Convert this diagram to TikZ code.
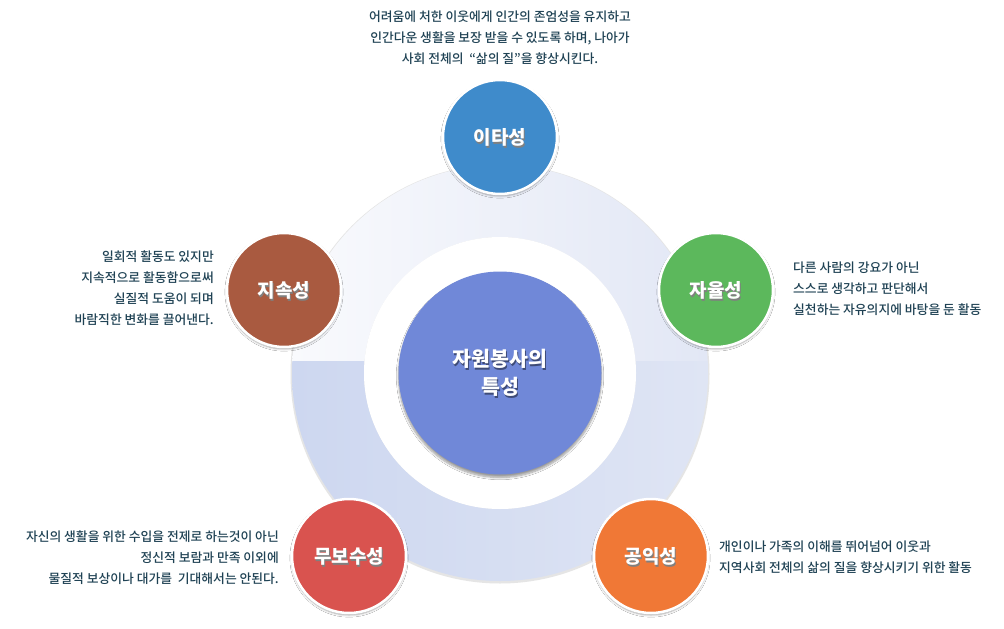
\documentclass[tikz,border=0pt]{standalone}
\usepackage{fontspec}
\setmainfont{Noto Sans CJK KR}
\newfontfamily\descfont{Noto Sans CJK KR Medium}
\usetikzlibrary{shadows.blur}
\definecolor{txt}{HTML}{1F4254}
\definecolor{cblue}{HTML}{3F8BCB}
\definecolor{cgreen}{HTML}{5CB85C}
\definecolor{corange}{HTML}{F07836}
\definecolor{cred}{HTML}{D9534F}
\definecolor{cbrown}{HTML}{A95A40}
\definecolor{ccenter}{HTML}{7088D8}
\definecolor{upl}{HTML}{F9FAFD}
\definecolor{upr}{HTML}{E2E7F5}
\definecolor{lol}{HTML}{CDD7F0}
\definecolor{lor}{HTML}{DFE5F4}
\tikzset{
  sat/.style={circle, minimum size=114pt, inner sep=0pt, draw=white, line width=2.5pt,
    blur shadow={shadow blur steps=6, shadow xshift=0pt, shadow yshift=-2pt, shadow opacity=35}},
  desc/.style={text=txt, font=\descfont\fontsize{12.8}{21}\selectfont, inner sep=0pt},
  lbl/.style={text=white, font=\bfseries\fontsize{19}{24}\selectfont, inner sep=0pt}
}
\begin{document}
\begin{tikzpicture}[x=1pt,y=-1pt]
\useasboundingbox (0,0) rectangle (1004,629);
\fill[white] (0,0) rectangle (1004,629);
% ring
\coordinate (c) at (500,373);
\fill[black!10] (500,374) circle (209.5pt);
\begin{scope}
  \clip (280,150) rectangle (720,361);
  \shade[left color=upl, right color=upr, even odd rule] (c) circle (208pt) (c) circle (136pt);
\end{scope}
\begin{scope}
  \clip (280,361) rectangle (720,600);
  \shade[left color=lol, right color=lor, even odd rule] (c) circle (208pt) (c) circle (136pt);
\end{scope}
\fill[white] (c) circle (136pt);
% center
\node[circle, minimum size=203pt, inner sep=0pt, fill=ccenter,
  blur shadow={shadow blur steps=8, shadow xshift=0pt, shadow yshift=-3pt, shadow opacity=40}] (center) at (c) {};
\node[align=center, text=black!45!ccenter, font=\bfseries\fontsize{20.5}{28}\selectfont] at (501,375) {자원봉사의\\특성};
\node[align=center, text=white, font=\bfseries\fontsize{20.5}{28}\selectfont] (ctext) at (c) {자원봉사의\\특성};
% satellites
\node[sat, fill=cblue] (ita) at (500,137) {};
\node[sat, fill=cgreen] (jayul) at (716,290) {};
\node[sat, fill=cbrown] (jisok) at (284,290) {};
\node[sat, fill=cred] (mubo) at (349,556) {};
\node[sat, fill=corange] (gong) at (651,556) {};
\foreach \n/\t in {ita/이타성, jayul/자율성, jisok/지속성, mubo/무보수성, gong/공익성}{
  \node[lbl, text=black!50] at ([xshift=1pt,yshift=-2pt]\n.center) {\t};
  \node[lbl] at (\n.center) {\t};
}
% descriptions
\node[desc, align=center] (dtop) at (500,38) {어려움에 처한 이웃에게 인간의 존엄성을 유지하고\\인간다운 생활을 보장 받을 수 있도록 하며, 나아가\\사회 전체의~~“삶의 질”을 향상시킨다.};
\node[desc, align=right, anchor=east] (dleft) at (214,288) {일회적 활동도 있지만\\지속적으로 활동함으로써\\실질적 도움이 되며\\바람직한 변화를 끌어낸다.};
\node[desc, align=left, anchor=west] (dright) at (793,289) {다른 사람의 강요가 아닌\\스스로 생각하고 판단해서\\실천하는 자유의지에 바탕을 둔 활동};
\node[desc, align=right, anchor=east] (dbl) at (279,558) {자신의 생활을 위한 수입을 전제로 하는것이 아닌\\정신적 보람과 만족 이외에\\물질적 보상이나 대가를~~기대해서는 안된다.};
\node[desc, align=left, anchor=west] (dbr) at (719,557) {개인이나 가족의 이해를 뛰어넘어 이웃과\\지역사회 전체의 삶의 질을 향상시키기 위한 활동};
\end{tikzpicture}
\end{document}
